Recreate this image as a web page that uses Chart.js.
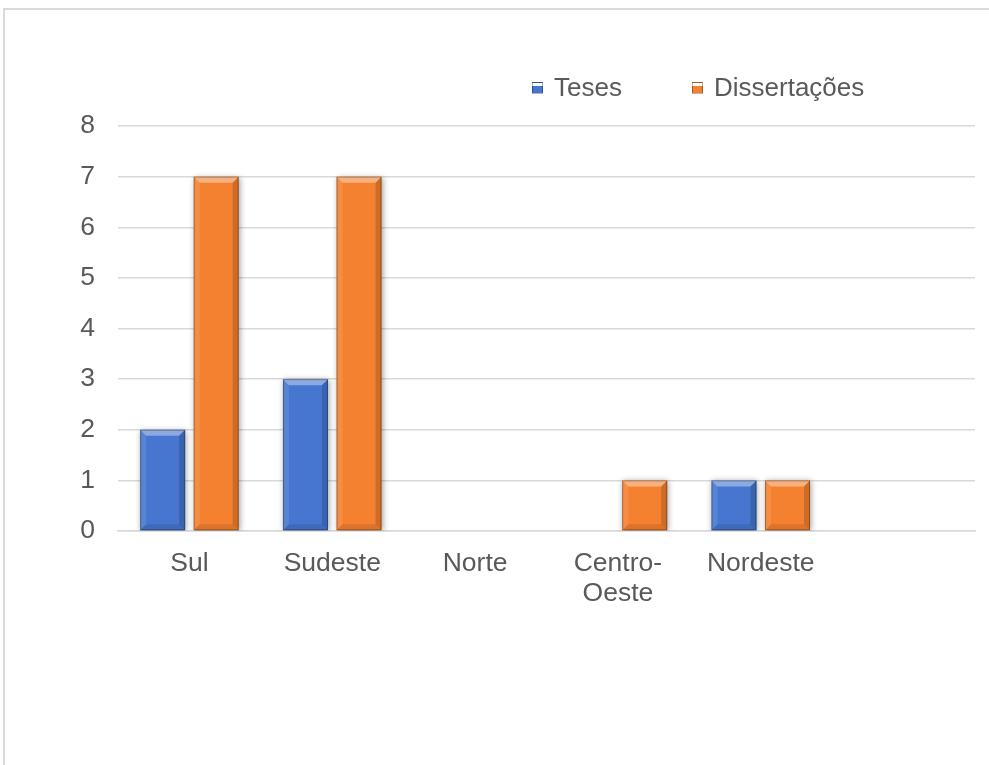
<!DOCTYPE html>
<html lang="pt">
<head>
<meta charset="utf-8">
<title>Teses e Dissertações por região</title>
<script src="https://cdn.jsdelivr.net/npm/chart.js@4.4.1/dist/chart.umd.min.js"></script>
<style>
  html, body { margin: 0; padding: 0; background: #ffffff; overflow: hidden; }
  #frame {
    position: absolute; left: 3px; top: 8px; width: 1200px; height: 1200px;
    border: 2px solid #d9d9d9; box-sizing: border-box;
  }
  #wrap { position: absolute; left: 0; top: 0; width: 989px; height: 765px; }
  #legend {
    position: absolute; top: 70px; left: 0; height: 34px;
    font-family: "Liberation Sans", Arial, sans-serif; font-size: 26px; color: #595959;
  }
  .item { position: absolute; top: 0; white-space: nowrap; line-height: 34px; }
  .swatch {
    position: absolute; top: 12px; width: 11px; height: 12px; box-sizing: border-box;
  }
</style>
</head>
<body>
<div id="frame"></div>
<div id="wrap"><canvas id="chart" width="989" height="765"></canvas></div>
<div id="legend"></div>
<script>
// Regiões do país (a última categoria fica vazia, como no eixo original)
const categories = ['Sul', 'Sudeste', 'Norte', ['Centro-', 'Oeste'], 'Nordeste', ''];
// Quantidade de trabalhos por região
const teses = [2, 3, 0, 0, 1, null];
const dissertacoes = [7, 7, 0, 1, 1, null];
const seriesNames = ['Teses', 'Dissertações'];
const yTicks = [0, 1, 2, 3, 4, 5, 6, 7, 8];

const BLUE = '#4676d0';
const ORANGE = '#f4812f';
const FONT = '"Liberation Sans", Arial, sans-serif';
const TEXT = '#595959';

// Soft drop shadow under every bar
const barShadow = {
  id: 'barShadow',
  beforeDatasetDraw(chart) {
    const ctx = chart.ctx;
    ctx.save();
    ctx.shadowColor = 'rgba(0,0,0,0.38)';
    ctx.shadowBlur = 6;
    ctx.shadowOffsetX = 1;
    ctx.shadowOffsetY = 1;
  },
  afterDatasetDraw(chart) {
    chart.ctx.restore();
  }
};

// Bevelled faces drawn on top of each bar element
const barBevel = {
  id: 'barBevel',
  afterDatasetsDraw(chart) {
    const ctx = chart.ctx;
    chart.data.datasets.forEach((ds, di) => {
      const meta = chart.getDatasetMeta(di);
      meta.data.forEach(el => {
        const p = el.getProps(['x', 'y', 'base', 'width'], true);
        const l = p.x - p.width / 2, r = p.x + p.width / 2;
        const t = Math.min(p.y, p.base), b = Math.max(p.y, p.base);
        const h = b - t;
        if (!(h > 1)) return;
        const e = Math.min(6, h / 3);
        const poly = (pts, fill) => {
          ctx.beginPath();
          ctx.moveTo(pts[0][0], pts[0][1]);
          for (let i = 1; i < pts.length; i++) ctx.lineTo(pts[i][0], pts[i][1]);
          ctx.closePath();
          ctx.fillStyle = fill;
          ctx.fill();
        };
        ctx.save();
        // top face
        poly([[l, t], [r, t], [r - e, t + e], [l + e, t + e]], 'rgba(255,255,255,0.38)');
        // left face
        poly([[l, t], [l + e, t + e], [l + e, b - e], [l, b]], 'rgba(255,255,255,0.10)');
        // right face
        poly([[r, t], [r, b], [r - e, b - e], [r - e, t + e]], 'rgba(0,0,0,0.16)');
        // bottom face
        poly([[l, b], [r, b], [r - e, b - e], [l + e, b - e]], 'rgba(0,0,0,0.10)');
        // thin edge
        ctx.strokeStyle = 'rgba(0,0,0,0.30)';
        ctx.lineWidth = 1;
        ctx.strokeRect(l + 0.5, t + 0.5, p.width - 1, h - 1);
        ctx.restore();
      });
    });
  }
};

const chart = new Chart(document.getElementById('chart'), {
  type: 'bar',
  data: {
    labels: categories,
    datasets: [
      { label: seriesNames[0], data: teses, backgroundColor: BLUE, borderWidth: 0,
        categoryPercentage: 0.75, barPercentage: 0.84 },
      { label: seriesNames[1], data: dissertacoes, backgroundColor: ORANGE, borderWidth: 0,
        categoryPercentage: 0.75, barPercentage: 0.84 }
    ]
  },
  options: {
    responsive: false,
    animation: false,
    layout: { padding: { top: 126, right: 14, bottom: 134, left: 0 } },
    plugins: {
      legend: { display: false },
      tooltip: { enabled: false }
    },
    scales: {
      x: {
        grid: { display: false, drawTicks: false },
        border: { display: true, color: '#d9d9d9', width: 1.5 },
        ticks: {
          color: TEXT, padding: 18, maxRotation: 0, autoSkip: false,
          font: { family: FONT, size: 26.5, lineHeight: 1.13 }
        },
        afterFit(scale) { scale.height = 100; }
      },
      y: {
        min: 0, max: 8,
        afterBuildTicks(scale) { scale.ticks = yTicks.map(v => ({ value: v })); },
        grid: { color: '#d9d9d9', lineWidth: 1.5, drawTicks: false },
        border: { display: false },
        ticks: {
          color: TEXT, padding: 23,
          font: { family: FONT, size: 26.5 }
        },
        afterFit(scale) { scale.width = 118; }
      }
    }
  },
  plugins: [barShadow, barBevel]
});

// Legend built from the dataset names and colours
const legendPos = [532, 692];
const legend = document.getElementById('legend');
chart.data.datasets.forEach((ds, i) => {
  const item = document.createElement('div');
  item.className = 'item';
  item.style.left = legendPos[i] + 'px';
  const sw = document.createElement('span');
  sw.className = 'swatch';
  sw.style.left = '0px';
  sw.style.background = 'linear-gradient(180deg, rgba(255,255,255,0.45) 0, rgba(255,255,255,0.45) 3px, ' +
    ds.backgroundColor + ' 3px, ' + ds.backgroundColor + ' 100%)';
  sw.style.border = '1px solid rgba(0,0,0,0.3)';
  const txt = document.createElement('span');
  txt.textContent = ds.label;
  txt.style.position = 'absolute';
  txt.style.left = '22px';
  item.appendChild(sw);
  item.appendChild(txt);
  legend.appendChild(item);
});
</script>
</body>
</html>
